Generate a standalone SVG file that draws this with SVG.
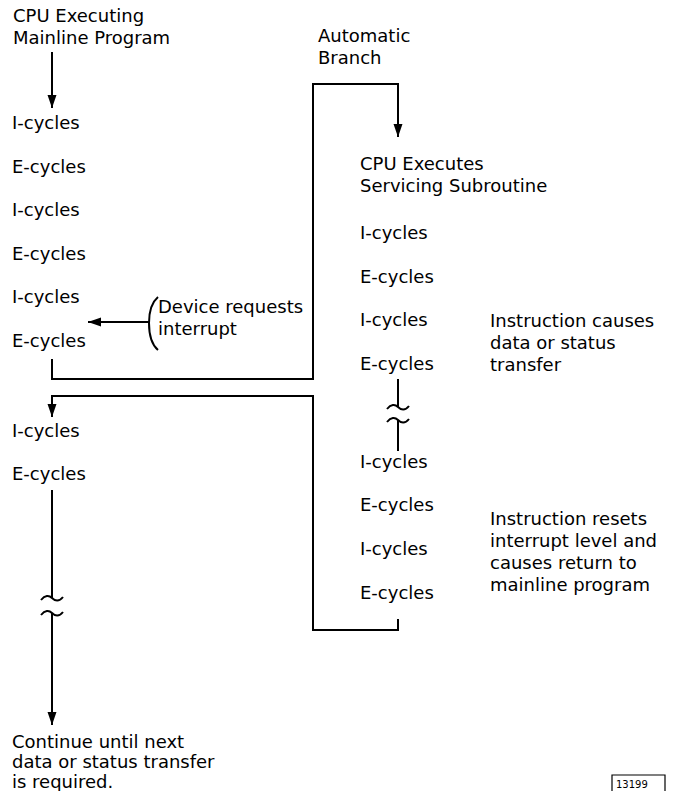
<svg xmlns="http://www.w3.org/2000/svg" width="683" height="791" viewBox="0 0 683 791">
<defs>
<marker id="ah" markerUnits="userSpaceOnUse" markerWidth="14" markerHeight="10" refX="13" refY="4.5" orient="auto" viewBox="0 0 14 9">
<path d="M0,0 L13,4.5 L0,9 Z" fill="#000"/>
</marker>
<style>
text{font-family:"DejaVu Sans","Liberation Sans",sans-serif;font-size:18px;fill:#000}
.ln{fill:none;stroke:#000;stroke-width:2}
.brk{fill:none;stroke:#000;stroke-width:2}
.small{font-size:10px}
</style>
</defs>
<rect width="683" height="791" fill="#fff"/>

<g id="mainline-title"><text x="13" y="22">CPU Executing</text><text x="13" y="44">Mainline Program</text></g>
<g id="main-cycles-1">
<text x="12" y="129">I-cycles</text>
<text x="12" y="173">E-cycles</text>
<text x="12" y="216">I-cycles</text>
<text x="12" y="260">E-cycles</text>
<text x="12" y="303">I-cycles</text>
<text x="12" y="347">E-cycles</text>
</g>
<g id="device-request"><text x="158" y="313">Device requests</text><text x="158" y="335">interrupt</text></g>
<g id="auto-branch"><text x="318" y="42">Automatic</text><text x="318" y="64">Branch</text></g>
<g id="subroutine-title"><text x="360" y="170">CPU Executes</text><text x="360" y="192">Servicing Subroutine</text></g>
<g id="sub-cycles-1">
<text x="360" y="239">I-cycles</text>
<text x="360" y="283">E-cycles</text>
<text x="360" y="326">I-cycles</text>
<text x="360" y="370">E-cycles</text>
</g>
<g id="note-transfer"><text x="490" y="327">Instruction causes</text><text x="490" y="349">data or status</text><text x="490" y="371">transfer</text></g>
<g id="sub-cycles-2">
<text x="360" y="468">I-cycles</text>
<text x="360" y="511">E-cycles</text>
<text x="360" y="555">I-cycles</text>
<text x="360" y="599">E-cycles</text>
</g>
<g id="note-reset"><text x="490" y="525">Instruction resets</text><text x="490" y="547">interrupt level and</text><text x="490" y="569">causes return to</text><text x="490" y="591">mainline program</text></g>
<g id="main-cycles-2">
<text x="12" y="437">I-cycles</text>
<text x="12" y="480">E-cycles</text>
</g>
<g id="continue"><text x="12" y="748">Continue until next</text><text x="12" y="768">data or status transfer</text><text x="12" y="788">is required.</text></g>
<g id="figure-number"><path class="ln" d="M612,795 V775 H665 V795" style="stroke-width:1.2"/><text class="small" x="616" y="788">13199</text></g>

<g id="connectors">
<line class="ln" x1="52" y1="52" x2="52" y2="108" marker-end="url(#ah)"/>
<path class="ln" d="M52,359 V379 H313 V84 H398 V137" marker-end="url(#ah)"/>
<path class="ln" d="M398,619 V630 H313 V396 H52 V417" marker-end="url(#ah)"/>
<line class="ln" x1="150" y1="322" x2="88" y2="322" marker-end="url(#ah)"/>
<path class="ln" d="M158,297 C151,303 149,312 149,323 C149,335 151,344 158,350"/>
<line class="ln" x1="398" y1="379" x2="398" y2="407"/>
<path class="brk" d="M387,409 C391,404 395,404 398,407 S405,411 409,406"/>
<path class="brk" d="M387,422 C391,417 395,417 398,420 S405,424 409,419"/>
<line class="ln" x1="398" y1="420" x2="398" y2="451"/>
<line class="ln" x1="52" y1="490" x2="52" y2="598"/>
<path class="brk" d="M41,600 C45,595 49,595 52,598 S59,602 63,597"/>
<path class="brk" d="M41,615 C45,610 49,610 52,613 S59,617 63,612"/>
<line class="ln" x1="52" y1="613" x2="52" y2="725" marker-end="url(#ah)"/>
</g>
</svg>
